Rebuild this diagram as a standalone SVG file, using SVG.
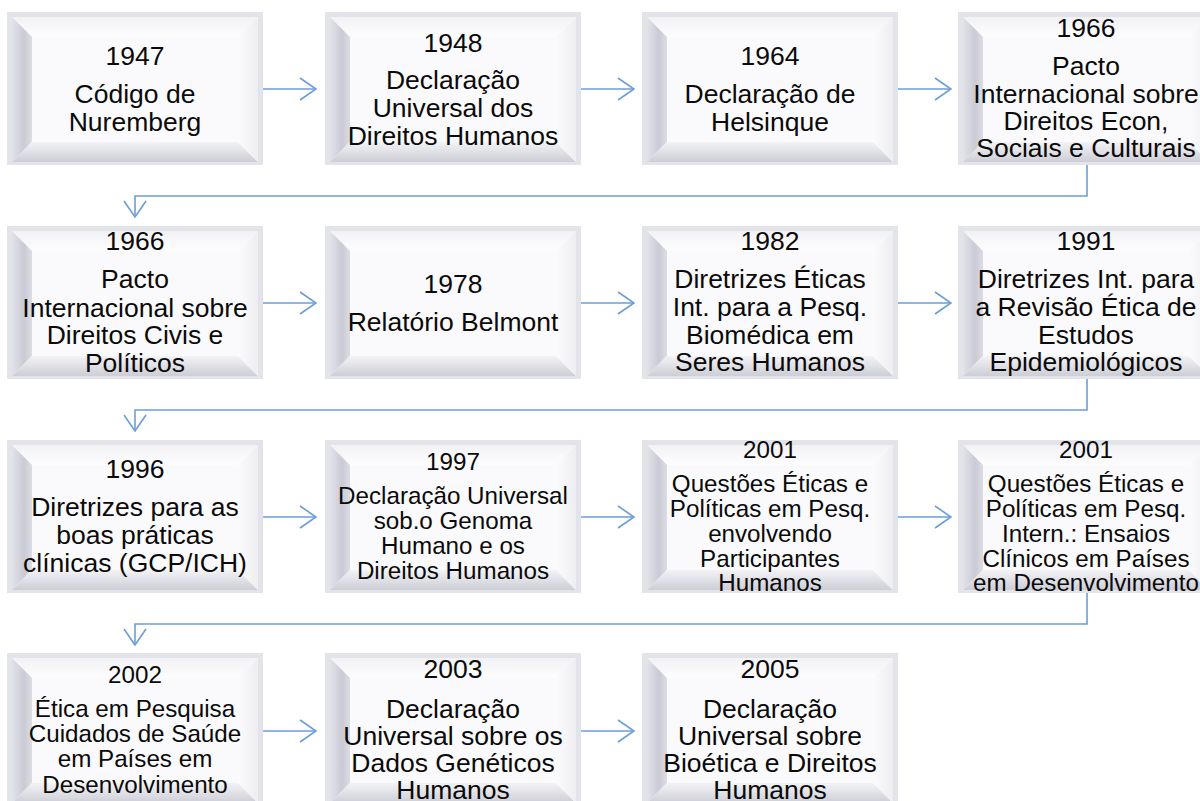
<svg xmlns="http://www.w3.org/2000/svg" xmlns:xlink="http://www.w3.org/1999/xlink" width="1200" height="801" viewBox="0 0 1200 801">
<defs>
<linearGradient id="gl" x1="0" y1="0" x2="1" y2="0">
<stop offset="0" stop-color="#e2e3e9"/><stop offset="0.6" stop-color="#c9cad4"/><stop offset="1" stop-color="#dcdde4"/>
</linearGradient>
<linearGradient id="gb" x1="0" y1="0" x2="0" y2="1">
<stop offset="0" stop-color="#f3f3f6"/><stop offset="1" stop-color="#cdced6"/>
</linearGradient>
<linearGradient id="gt" x1="0" y1="0" x2="0" y2="1">
<stop offset="0" stop-color="#f2f2f5"/><stop offset="1" stop-color="#fdfdfe"/>
</linearGradient>
<linearGradient id="gr" x1="0" y1="0" x2="1" y2="0">
<stop offset="0" stop-color="#fbfbfc"/><stop offset="1" stop-color="#eeeef2"/>
</linearGradient>
<g id="bx">
<rect x="0" y="0" width="256" height="153" fill="#e3e4e9"/>
<rect x="5" y="5" width="246" height="145" fill="#fafafc"/>
<polygon points="5,5 251,5 231,25 25,25" fill="url(#gt)"/>
<polygon points="5,5 25,25 25,130 5,150" fill="url(#gl)"/>
<polygon points="5,150 25,130 231,130 251,150" fill="url(#gb)"/>
<polygon points="251,5 251,150 231,130 231,25" fill="url(#gr)"/>
<rect x="25" y="25" width="206" height="105" fill="#fafafc"/>
</g>
<marker id="ah" viewBox="0 0 18 24" refX="17" refY="12" markerWidth="18" markerHeight="24" markerUnits="userSpaceOnUse" orient="auto">
<path d="M1,1 L17,12 L1,23" fill="none" stroke="#6b9dd9" stroke-width="1.6"/>
</marker>
</defs>
<style>
text{fill:#0a0a0a;text-anchor:middle}
.a{font-size:26.5px}
.b{font-size:24.2px}
.c{fill:none;stroke:#6b9dd9;stroke-width:1.6;marker-end:url(#ah)}
</style>
<rect width="1200" height="801" fill="#fff"/>
<g id="connectors">
<path class="c" d="M263,89 H316"/>
<path class="c" d="M581,89 H634"/>
<path class="c" d="M898,89 H951"/>
<path class="c" d="M1087,165 V196 H135 V217"/>
<path class="c" d="M263,303 H316"/>
<path class="c" d="M581,303 H634"/>
<path class="c" d="M898,303 H951"/>
<path class="c" d="M1087,379 V410 H135 V431"/>
<path class="c" d="M263,517 H316"/>
<path class="c" d="M581,517 H634"/>
<path class="c" d="M898,517 H951"/>
<path class="c" d="M1087,593 V624 H135 V645"/>
<path class="c" d="M263,731 H316"/>
<path class="c" d="M581,731 H634"/>
</g>
<g font-family="'Liberation Sans', Arial, sans-serif">
<g id="n1947" transform="translate(7,12)"><use xlink:href="#bx"/>
<text class="a" x="128" y="53">1947</text><text class="a" x="128" y="91">Código de</text><text class="a" x="128" y="119">Nuremberg</text></g>
<g id="n1948" transform="translate(325,12)"><use xlink:href="#bx"/>
<text class="a" x="128" y="40">1948</text><text class="a" x="128" y="77">Declaração</text><text class="a" x="128" y="105">Universal dos</text><text class="a" x="128" y="133">Direitos Humanos</text></g>
<g id="n1964" transform="translate(642,12)"><use xlink:href="#bx"/>
<text class="a" x="128" y="53">1964</text><text class="a" x="128" y="91">Declaração de</text><text class="a" x="128" y="119">Helsinque</text></g>
<g id="n1966a" transform="translate(958,12)"><use xlink:href="#bx"/>
<text class="a" x="128" y="25">1966</text><text class="a" x="128" y="63">Pacto</text><text class="a" x="128" y="91">Internacional sobre</text><text class="a" x="128" y="118">Direitos Econ,</text><text class="a" x="128" y="145">Sociais e Culturais</text></g>

<g id="n1966b" transform="translate(7,226)"><use xlink:href="#bx"/>
<text class="a" x="128" y="24">1966</text><text class="a" x="128" y="62">Pacto</text><text class="a" x="128" y="91">Internacional sobre</text><text class="a" x="128" y="118">Direitos Civis e</text><text class="a" x="128" y="146">Políticos</text></g>
<g id="n1978" transform="translate(325,226)"><use xlink:href="#bx"/>
<text class="a" x="128" y="67">1978</text><text class="a" x="128" y="105">Relatório Belmont</text></g>
<g id="n1982" transform="translate(642,226)"><use xlink:href="#bx"/>
<text class="a" x="128" y="24">1982</text><text class="a" x="128" y="62">Diretrizes Éticas</text><text class="a" x="128" y="90">Int. para a Pesq.</text><text class="a" x="128" y="118">Biomédica em</text><text class="a" x="128" y="145">Seres Humanos</text></g>
<g id="n1991" transform="translate(958,226)"><use xlink:href="#bx"/>
<text class="a" x="128" y="24">1991</text><text class="a" x="128" y="62">Diretrizes Int. para</text><text class="a" x="128" y="90">a Revisão Ética de</text><text class="a" x="128" y="118">Estudos</text><text class="a" x="128" y="145">Epidemiológicos</text></g>

<g id="n1996" transform="translate(7,440)"><use xlink:href="#bx"/>
<text class="a" x="128" y="38">1996</text><text class="a" x="128" y="76">Diretrizes para as</text><text class="a" x="128" y="104">boas práticas</text><text class="a" x="128" y="132">clínicas (GCP/ICH)</text></g>
<g id="n1997" transform="translate(325,440)"><use xlink:href="#bx"/>
<text class="b" x="128" y="30">1997</text><text class="b" x="128" y="64">Declaração Universal</text><text class="b" x="128" y="89">sob.o Genoma</text><text class="b" x="128" y="114">Humano e os</text><text class="b" x="128" y="139">Direitos Humanos</text></g>
<g id="n2001a" transform="translate(642,440)"><use xlink:href="#bx"/>
<text class="b" x="128" y="18">2001</text><text class="b" x="128" y="52">Questões Éticas e</text><text class="b" x="128" y="77">Políticas em Pesq.</text><text class="b" x="128" y="102">envolvendo</text><text class="b" x="128" y="127">Participantes</text><text class="b" x="128" y="151">Humanos</text></g>
<g id="n2001b" transform="translate(958,440)"><use xlink:href="#bx"/>
<text class="b" x="128" y="18">2001</text><text class="b" x="128" y="52">Questões Éticas e</text><text class="b" x="128" y="77">Políticas em Pesq.</text><text class="b" x="128" y="102">Intern.: Ensaios</text><text class="b" x="128" y="127">Clínicos em Países</text><text class="b" x="128" y="151">em Desenvolvimento</text></g>

<g id="n2002" transform="translate(7,653)"><use xlink:href="#bx"/>
<text class="b" x="128" y="30">2002</text><text class="b" x="128" y="64">Ética em Pesquisa</text><text class="b" x="128" y="89">Cuidados de Saúde</text><text class="b" x="128" y="114">em Países em</text><text class="b" x="128" y="140">Desenvolvimento</text></g>
<g id="n2003" transform="translate(325,653)"><use xlink:href="#bx"/>
<text class="a" x="128" y="25">2003</text><text class="a" x="128" y="65">Declaração</text><text class="a" x="128" y="92">Universal sobre os</text><text class="a" x="128" y="119">Dados Genéticos</text><text class="a" x="128" y="146">Humanos</text></g>
<g id="n2005" transform="translate(642,653)"><use xlink:href="#bx"/>
<text class="a" x="128" y="25">2005</text><text class="a" x="128" y="65">Declaração</text><text class="a" x="128" y="92">Universal sobre</text><text class="a" x="128" y="119">Bioética e Direitos</text><text class="a" x="128" y="146">Humanos</text></g>
</g>
</svg>
